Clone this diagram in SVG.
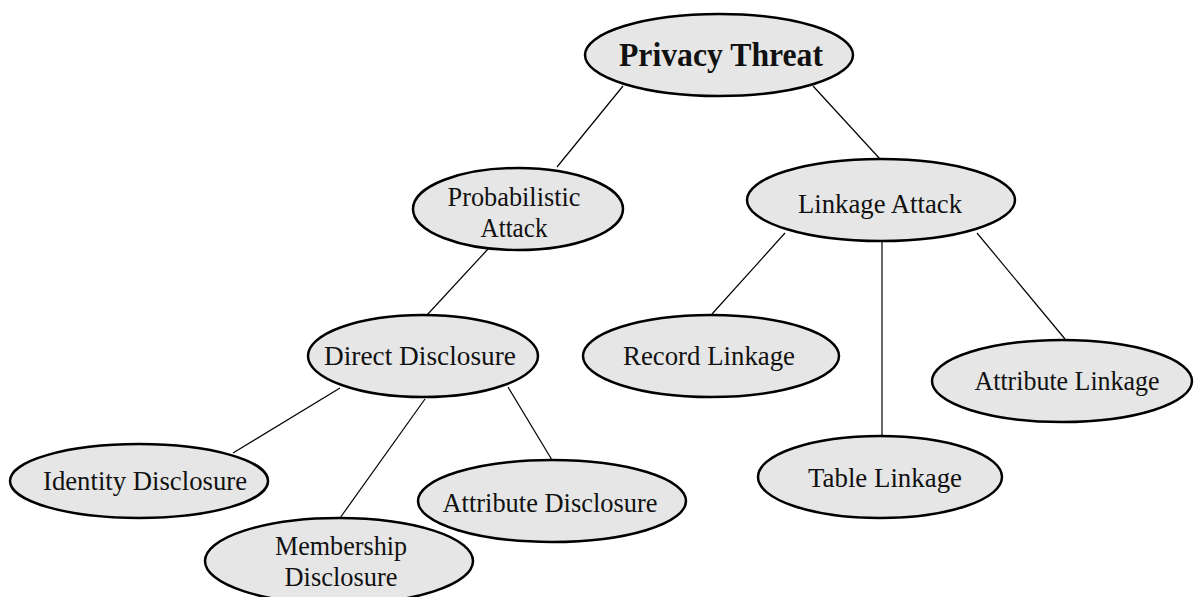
<svg xmlns="http://www.w3.org/2000/svg" width="1195" height="597" viewBox="0 0 1195 597">
<style>
.n ellipse{fill:#e6e6e6;stroke:#000;stroke-width:2.5}
.n text{font-family:"Liberation Serif","Times New Roman",serif;font-size:28px;fill:#111;text-anchor:middle}
.n text.b{font-weight:bold;font-size:34px}
#edges line{stroke:#000;stroke-width:1.2}
</style>
<rect width="1195" height="597" fill="#fff"/>
<g id="edges">
<line x1="623" y1="86" x2="557" y2="167"/>
<line x1="813" y1="86" x2="880" y2="159"/>
<line x1="488" y1="249" x2="427" y2="315"/>
<line x1="785" y1="233" x2="712" y2="314"/>
<line x1="882" y1="242" x2="882" y2="435"/>
<line x1="977" y1="233" x2="1065" y2="339"/>
<line x1="340" y1="388" x2="233" y2="453"/>
<line x1="425" y1="399" x2="340" y2="518"/>
<line x1="508" y1="387" x2="552" y2="460"/>
</g>
<g id="privacy-threat" class="n"><ellipse cx="719" cy="55" rx="134" ry="41"/><text class="b" x="721" y="66" textLength="204" lengthAdjust="spacingAndGlyphs">Privacy Threat</text></g>
<g id="probabilistic-attack" class="n"><ellipse cx="518" cy="209" rx="105" ry="41"/><text x="514" y="206" textLength="133" lengthAdjust="spacingAndGlyphs">Probabilistic</text><text x="514" y="237" textLength="67" lengthAdjust="spacingAndGlyphs">Attack</text></g>
<g id="linkage-attack" class="n"><ellipse cx="881" cy="200" rx="134" ry="41"/><text x="880" y="213" textLength="164" lengthAdjust="spacingAndGlyphs">Linkage Attack</text></g>
<g id="direct-disclosure" class="n"><ellipse cx="423" cy="356" rx="115" ry="41"/><text x="420" y="365" textLength="192" lengthAdjust="spacingAndGlyphs">Direct Disclosure</text></g>
<g id="record-linkage" class="n"><ellipse cx="711" cy="356" rx="128" ry="41"/><text x="709" y="365" textLength="172" lengthAdjust="spacingAndGlyphs">Record Linkage</text></g>
<g id="attribute-linkage" class="n"><ellipse cx="1062" cy="381" rx="130" ry="41"/><text x="1067" y="390" textLength="185" lengthAdjust="spacingAndGlyphs">Attribute Linkage</text></g>
<g id="table-linkage" class="n"><ellipse cx="880" cy="477" rx="122" ry="41"/><text x="885" y="487" textLength="154" lengthAdjust="spacingAndGlyphs">Table Linkage</text></g>
<g id="identity-disclosure" class="n"><ellipse cx="139" cy="481" rx="129" ry="37"/><text x="145" y="490" textLength="204" lengthAdjust="spacingAndGlyphs">Identity Disclosure</text></g>
<g id="attribute-disclosure" class="n"><ellipse cx="552" cy="501" rx="134" ry="41"/><text x="550" y="512" textLength="215" lengthAdjust="spacingAndGlyphs">Attribute Disclosure</text></g>
<g id="membership-disclosure" class="n"><ellipse cx="339" cy="561" rx="134" ry="43"/><text x="341" y="555" textLength="132" lengthAdjust="spacingAndGlyphs">Membership</text><text x="341" y="586" textLength="113" lengthAdjust="spacingAndGlyphs">Disclosure</text></g>
</svg>
